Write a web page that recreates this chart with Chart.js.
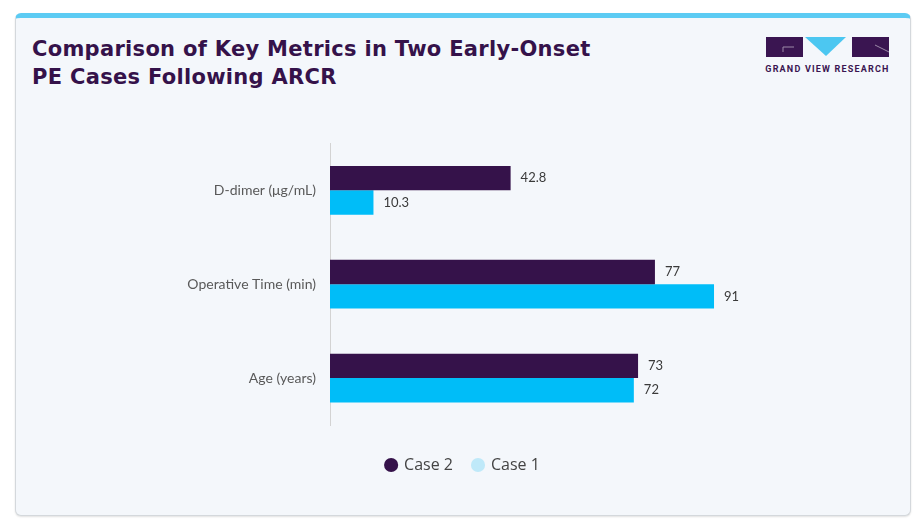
<!DOCTYPE html>
<html>
<head>
<meta charset="utf-8">
<script src="https://cdn.jsdelivr.net/npm/chart.js@4.4.1/dist/chart.umd.min.js"></script>
<style>
  html, body { margin: 0; padding: 0; background: #ffffff; width: 921px; height: 527px; overflow: hidden; }
  #card {
    position: absolute; left: 15px; top: 13px; width: 896px; height: 503px;
    background: #f4f7fb; border: 1px solid #d4d8dc; border-top: 5px solid #5ccbf3;
    border-radius: 6px; box-sizing: border-box; box-shadow: 0 1px 2px rgba(0,0,0,0.12);
  }
  #title {
    position: absolute; left: 32px; top: 35px; margin: 0;
    font-family: "DejaVu Sans", sans-serif; font-weight: 700; font-size: 21px; line-height: 28px;
    color: #35124a; letter-spacing: 0.3px; white-space: nowrap;
  }
  #logo { position: absolute; left: 764px; top: 36px; }
  #wrap { position: absolute; left: 15px; top: 121px; width: 897px; height: 362px; }
</style>
</head>
<body>
<div id="card"></div>
<h1 id="title">Comparison of Key Metrics in Two Early-Onset<br>PE Cases Following ARCR</h1>
<svg id="logo" width="130" height="40" viewBox="764 36 130 40">
  <rect x="766" y="37" width="37" height="20" fill="#3a1551"/>
  <polyline points="783,52 783,47 794,47" fill="none" stroke="#9c8aa8" stroke-width="1"/>
  <polygon points="805,37 846,37 826,56" fill="#4cc7f1"/>
  <rect x="852" y="37" width="37" height="20" fill="#3a1551"/>
  <line x1="875" y1="45" x2="889" y2="52" stroke="#9c8aa8" stroke-width="1"/>
  <text x="827.5" y="72" text-anchor="middle" font-family="Roboto, 'DejaVu Sans', sans-serif" font-weight="700" font-size="9" fill="#3a1551" letter-spacing="1.2">GRAND VIEW RESEARCH</text>
</svg>
<div id="wrap"><canvas id="c"></canvas></div>
<script>
const categories = ["D-dimer (μg/mL)", "Operative Time (min)", "Age (years)"];
const case2Values = [42.8, 77, 73];
const case1Values = [10.3, 91, 72];
const seriesNames = ["Case 2", "Case 1"];

const valueLabels = {
  id: 'valueLabels',
  afterDatasetsDraw(chart) {
    const ctx = chart.ctx;
    ctx.save();
    ctx.font = '13px Lato, "Open Sans", sans-serif';
    ctx.fillStyle = '#3a3a3a';
    ctx.textAlign = 'left';
    ctx.textBaseline = 'middle';
    chart.data.datasets.forEach((ds, i) => {
      const meta = chart.getDatasetMeta(i);
      meta.data.forEach((el, j) => {
        ctx.fillText(String(ds.data[j]), el.x + 10, el.y);
      });
    });
    ctx.restore();
  }
};

const legendColors = ['#35124a', '#bfe9f9'];

new Chart(document.getElementById('c'), {
  type: 'bar',
  data: {
    labels: categories,
    datasets: [
      { label: seriesNames[0], data: case2Values, backgroundColor: '#35124a' },
      { label: seriesNames[1], data: case1Values, backgroundColor: '#00bdf8' }
    ]
  },
  options: {
    indexAxis: 'y',
    responsive: true,
    maintainAspectRatio: false,
    animation: false,
    layout: { padding: { left: 159, right: 160, top: 22, bottom: 0 } },
    datasets: { bar: { categoryPercentage: 0.52, barPercentage: 1.0 } },
    scales: {
      x: {
        min: 0, max: 100,
        display: true,
        grid: { display: false },
        border: { display: false },
        ticks: { display: false },
        afterFit(scale) { scale.height = 12; }
      },
      y: {
        grid: { display: false, drawTicks: false },
        border: { display: true, color: '#d3d3d3', width: 1 },
        ticks: { color: '#595959', font: { family: 'Lato, "Open Sans", sans-serif', size: 14 }, padding: 14 },
        afterFit(scale) { scale.width = 156; }
      }
    },
    plugins: {
      tooltip: { enabled: false },
      legend: {
        position: 'bottom',
        labels: {
          usePointStyle: true,
          pointStyle: 'circle',
          boxWidth: 10, boxHeight: 10,
          padding: 20,
          color: '#444444',
          font: { family: '"Open Sans", Lato, sans-serif', size: 16 },
          generateLabels(chart) {
            return chart.data.datasets.map((ds, i) => ({
              text: ds.label,
              fillStyle: legendColors[i],
              strokeStyle: legendColors[i],
              lineWidth: 0,
              pointStyle: 'circle',
              fontColor: '#444444',
              hidden: false,
              datasetIndex: i
            }));
          }
        }
      }
    }
  },
  plugins: [valueLabels]
});
</script>
</body>
</html>
